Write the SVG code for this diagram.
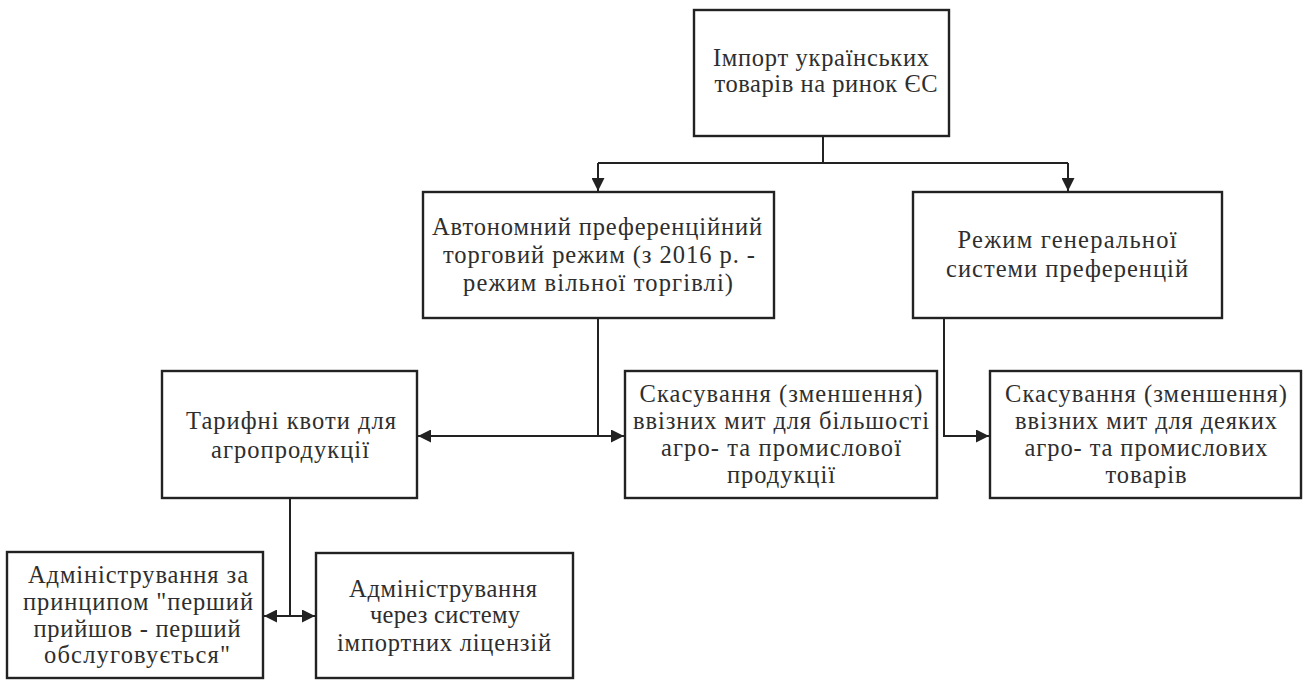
<svg xmlns="http://www.w3.org/2000/svg" width="1304" height="680" viewBox="0 0 1304 680">
<style>
.box{fill:#fff;stroke:#222;stroke-width:2.4}
.t{font-family:'Liberation Serif','Times New Roman',serif;font-size:24.5px;fill:#2e2e2e;text-anchor:middle}
.c{fill:none;stroke:#222;stroke-width:2}
</style>
<defs>
<marker id="ah" viewBox="0 0 10 10" refX="10" refY="5" markerWidth="6.5" markerHeight="6.5" orient="auto-start-reverse" markerUnits="strokeWidth">
<path d="M0,0 L10,5 L0,10 z" fill="#222"/>
</marker>
</defs>
<rect width="1304" height="680" fill="#fff"/>
<g id="connectors">
<path class="c" d="M823,136 V163"/>
<path class="c" d="M598,163 H1068"/>
<path class="c" d="M598,163 V191" marker-end="url(#ah)"/>
<path class="c" d="M1068,163 V191" marker-end="url(#ah)"/>
<path class="c" d="M598,318 V436"/>
<path class="c" d="M418,436 H624" marker-start="url(#ah)" marker-end="url(#ah)"/>
<path class="c" d="M944,318 V436 H989" marker-end="url(#ah)"/>
<path class="c" d="M290,498 V616"/>
<path class="c" d="M264,616 H315" marker-start="url(#ah)" marker-end="url(#ah)"/>
</g>
<g id="n1">
<rect class="box" x="694" y="10" width="255" height="126"/>
<text class="t" x="821" y="66" textLength="216" lengthAdjust="spacing">Імпорт українських</text>
<text class="t" x="826" y="92" textLength="223" lengthAdjust="spacing">товарів на ринок ЄС</text>
</g>
<g id="n2">
<rect class="box" x="423" y="192" width="351" height="126"/>
<text class="t" x="597" y="235" textLength="330" lengthAdjust="spacing">Автономний преференційний</text>
<text class="t" x="599" y="263" textLength="312" lengthAdjust="spacing">торговий режим (з 2016 р. -</text>
<text class="t" x="598" y="291" textLength="270" lengthAdjust="spacing">режим вільної торгівлі)</text>
</g>
<g id="n3">
<rect class="box" x="913" y="192" width="309" height="126"/>
<text class="t" x="1067" y="248" textLength="219" lengthAdjust="spacing">Режим генеральної</text>
<text class="t" x="1067" y="277" textLength="242" lengthAdjust="spacing">системи преференцій</text>
</g>
<g id="n4">
<rect class="box" x="162" y="371" width="255" height="127"/>
<text class="t" x="291" y="429" textLength="210" lengthAdjust="spacing">Тарифні квоти для</text>
<text class="t" x="290" y="458" textLength="158" lengthAdjust="spacing">агропродукції</text>
</g>
<g id="n5">
<rect class="box" x="625" y="371" width="312" height="127"/>
<text class="t" x="781" y="402" textLength="283" lengthAdjust="spacing">Скасування (зменшення)</text>
<text class="t" x="781" y="429" textLength="296" lengthAdjust="spacing">ввізних мит для більшості</text>
<text class="t" x="781" y="456" textLength="240" lengthAdjust="spacing">агро- та промислової</text>
<text class="t" x="781" y="483" textLength="108" lengthAdjust="spacing">продукції</text>
</g>
<g id="n6">
<rect class="box" x="990" y="371" width="311" height="127"/>
<text class="t" x="1146" y="402" textLength="282" lengthAdjust="spacing">Скасування (зменшення)</text>
<text class="t" x="1146" y="429" textLength="262" lengthAdjust="spacing">ввізних мит для деяких</text>
<text class="t" x="1146" y="456" textLength="243" lengthAdjust="spacing">агро- та промислових</text>
<text class="t" x="1146" y="483" textLength="81" lengthAdjust="spacing">товарів</text>
</g>
<g id="n7">
<rect class="box" x="7" y="552" width="256" height="126"/>
<text class="t" x="138" y="583" textLength="220" lengthAdjust="spacing">Адміністрування за</text>
<text class="t" x="138" y="610" textLength="230" lengthAdjust="spacing">принципом "перший</text>
<text class="t" x="137" y="637" textLength="207" lengthAdjust="spacing">прийшов - перший</text>
<text class="t" x="137" y="663" textLength="186" lengthAdjust="spacing">обслуговується"</text>
</g>
<g id="n8">
<rect class="box" x="316" y="553" width="257" height="125"/>
<text class="t" x="443" y="597" textLength="188" lengthAdjust="spacing">Адміністрування</text>
<text class="t" x="445" y="623" textLength="150" lengthAdjust="spacing">через систему</text>
<text class="t" x="444" y="651" textLength="214" lengthAdjust="spacing">імпортних ліцензій</text>
</g>
</svg>
